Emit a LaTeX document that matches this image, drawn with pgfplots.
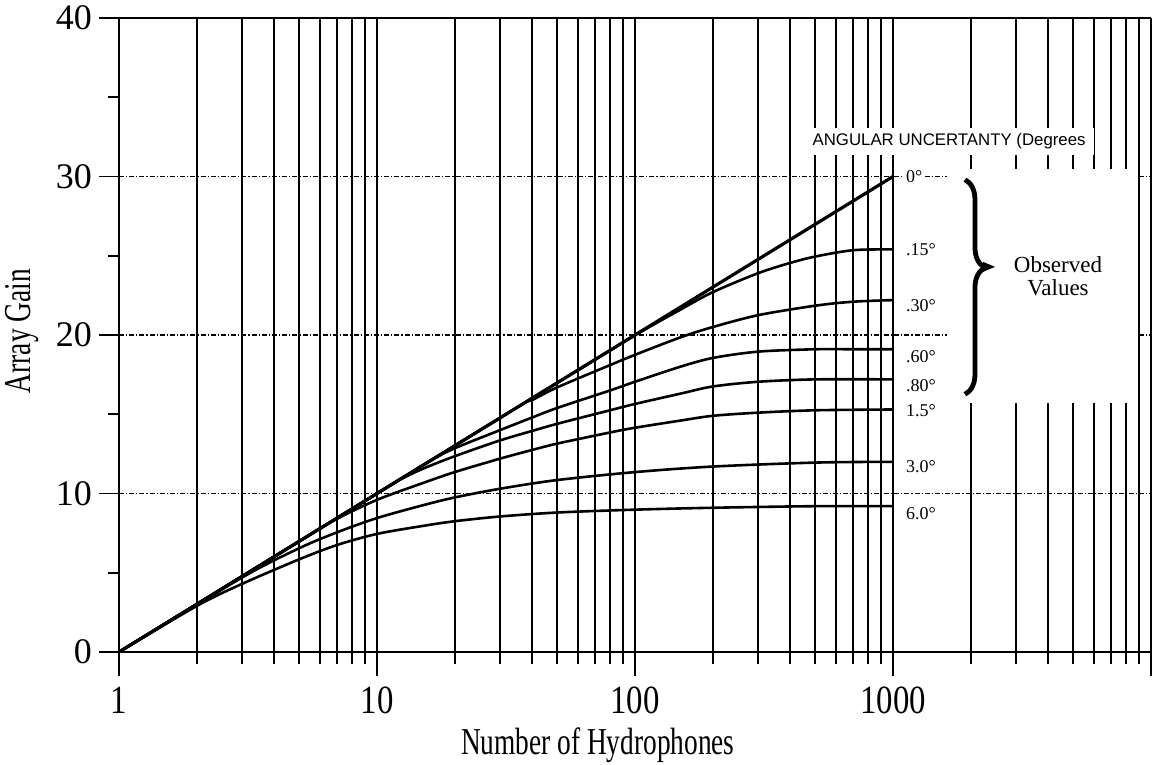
\documentclass[border=0pt]{standalone}
\usepackage{fontspec}
\setmainfont{Liberation Serif}
\newfontfamily\labfont{Liberation Serif}[FakeStretch=0.72]
\newfontfamily\xtfont{Liberation Serif}[FakeStretch=0.82]
\newfontfamily\angfont{Liberation Sans}
\usepackage{pgfplots}
\usepackage{pgfplotstable}
\pgfplotsset{compat=1.18}
\usetikzlibrary{decorations.pathreplacing}

\pgfplotstableread{
N G
1 0
1000 30
}\dzero
\pgfplotstableread{
N G
1 0
10 10
50 16.99
100 19.98
150 21.6
200 22.7
300 23.9
400 24.55
500 24.95
700 25.35
1000 25.4
}\dfifteen
\pgfplotstableread{
N G
1 0
10 10
35 15.44
40 15.9
50 16.7
80 18.1
100 18.75
150 19.85
200 20.5
300 21.25
500 21.85
700 22.1
1000 22.2
}\dthirty
\pgfplotstableread{
N G
1 0
10 10
16 12.04
20 12.85
30 14.0
40 14.8
50 15.4
80 16.5
100 17.05
150 18.0
200 18.55
300 18.95
500 19.1
700 19.1
1000 19.1
}\dsixty
\pgfplotstableread{
N G
1 0
10 10
12 10.79
15 11.55
20 12.35
30 13.35
40 13.95
50 14.4
80 15.25
100 15.65
150 16.3
200 16.75
300 17.05
500 17.2
1000 17.2
}\deighty
\pgfplotstableread{
N G
1 0
5 6.99
7 8.4
10 9.6
15 10.65
20 11.35
30 12.2
40 12.75
50 13.15
80 13.85
100 14.15
150 14.6
200 14.9
300 15.1
500 15.25
1000 15.3
}\donefive
\pgfplotstableread{
N G
1 0
3 4.7
5 6.55
7 7.55
10 8.45
15 9.25
20 9.75
30 10.3
50 10.85
100 11.35
200 11.7
500 11.95
1000 12.0
}\dthree
\pgfplotstableread{
N G
1 0
2 2.9
3 4.3
5 5.85
7 6.75
10 7.45
15 7.95
20 8.25
30 8.55
50 8.8
100 8.98
200 9.1
500 9.2
1000 9.2
}\dsix

\begin{document}
\begin{tikzpicture}
\begin{axis}[
  name=ax,
  scale only axis, width=516pt, height=317pt,
  xmode=log, xmin=1, xmax=10000, ymin=0, ymax=40,
  axis x line*=bottom, axis y line*=left,
  xtick={1,10,100,1000,10000}, xticklabels={1,10,100,1000,{}},
  minor xtick={2,3,4,5,6,7,8,9,20,30,40,50,60,70,80,90,200,300,400,500,600,700,800,900,2000,3000,4000,5000,6000,7000,8000,9000},
  ytick={0,10,20,30,40}, yticklabels={0,10,20,30,40},
  minor ytick={5,15,25,35},
  tick align=outside,
  major tick length=10pt, minor tick length=5.5pt,
  tick style={black, line width=0.9pt},
  xmajorgrids, xminorgrids, ymajorgrids,
  major x grid style={black, line width=1pt},
  minor x grid style={black, line width=1pt},
  major y grid style={black, line width=0.6pt, dash pattern=on 2.5pt off 1pt on 0.6pt off 1pt},
  axis line style={black, line width=1.3pt},
  xticklabel style={font=\xtfont\fontsize{20}{20}\selectfont},
  xticklabel shift=4pt,
  yticklabel style={font=\fontsize{18}{18}\selectfont},
  xlabel={Number of Hydrophones}, ylabel={Array Gain},
  label style={font=\labfont\fontsize{19}{19}\selectfont},
  xlabel style={at={(axis description cs:0.464,-0.1467)}, anchor=center},
  ylabel style={at={(axis description cs:-0.094,0.506)}, anchor=center},
  after end axis/.code={
    \draw[black, line width=1.3pt] (rel axis cs:0,1) -- (rel axis cs:1,1);
    \foreach \t in {1,10,100,1000,10000}{\draw[black, line width=0.9pt] (axis cs:\t,0) -- ++(0pt,-12pt);}
    \foreach \t in {2,3,4,5,6,7,8,9,20,30,40,50,60,70,80,90,200,300,400,500,600,700,800,900,2000,3000,4000,5000,6000,7000,8000,9000}{\draw[black, line width=0.9pt] (axis cs:\t,0) -- ++(0pt,-6pt);}
  },
]
% white annotation area
\fill[white] (axis cs:1618,15.7) rectangle (axis cs:8830,30.5);
\node[fill=white, inner xsep=4pt, inner ysep=3pt, font=\angfont\fontsize{8.4}{8.4}\selectfont] at (axis cs:1650,32.2) {ANGULAR UNCERTANTY (Degrees};

\addplot[black, line width=1.6pt] table[x=N, y=G] {\dzero};
\addplot[black, line width=1.3pt, smooth, tension=0.5] table[x=N, y=G] {\dfifteen};
\addplot[black, line width=1.3pt, smooth, tension=0.5] table[x=N, y=G] {\dthirty};
\addplot[black, line width=1.3pt, smooth, tension=0.5] table[x=N, y=G] {\dsixty};
\addplot[black, line width=1.3pt, smooth, tension=0.5] table[x=N, y=G] {\deighty};
\addplot[black, line width=1.3pt, smooth, tension=0.5] table[x=N, y=G] {\donefive};
\addplot[black, line width=1.3pt, smooth, tension=0.5] table[x=N, y=G] {\dthree};
\addplot[black, line width=1.3pt, smooth, tension=0.5] table[x=N, y=G] {\dsix};

\begin{scope}[every node/.style={anchor=west, font=\fontsize{9}{9}\selectfont, inner sep=1pt}]
\node[fill=white] at (axis cs:1100,30.0) {0°};
\node at (axis cs:1100,25.4) {.15°};
\node at (axis cs:1100,21.85) {.30°};
\node at (axis cs:1100,18.65) {.60°};
\node at (axis cs:1100,16.8) {.80°};
\node at (axis cs:1100,15.2) {1.5°};
\node at (axis cs:1100,11.7) {3.0°};
\node at (axis cs:1100,8.75) {6.0°};
\end{scope}

\draw[black, line width=2.4pt, decorate, decoration={brace, amplitude=10pt, aspect=0.41}]
  (axis cs:1901,29.8) -- (axis cs:1901,16.26);
\begin{scope}[shift={(axis cs:1901,24.3)}]
  \fill[black] (9pt,2.5pt) -- (15pt,0pt) -- (9pt,-2.5pt) -- cycle;
\end{scope}
\node[align=center, font=\fontsize{11.5}{11.5}\selectfont] at (axis cs:4360,23.7) {Observed\\Values};
\end{axis}
\pgfresetboundingbox
\path[use as bounding box] ([shift={(-59.5pt,-56pt)}]ax.south west) rectangle ([shift={(1.5pt,9pt)}]ax.north east);
\end{tikzpicture}
\end{document}
